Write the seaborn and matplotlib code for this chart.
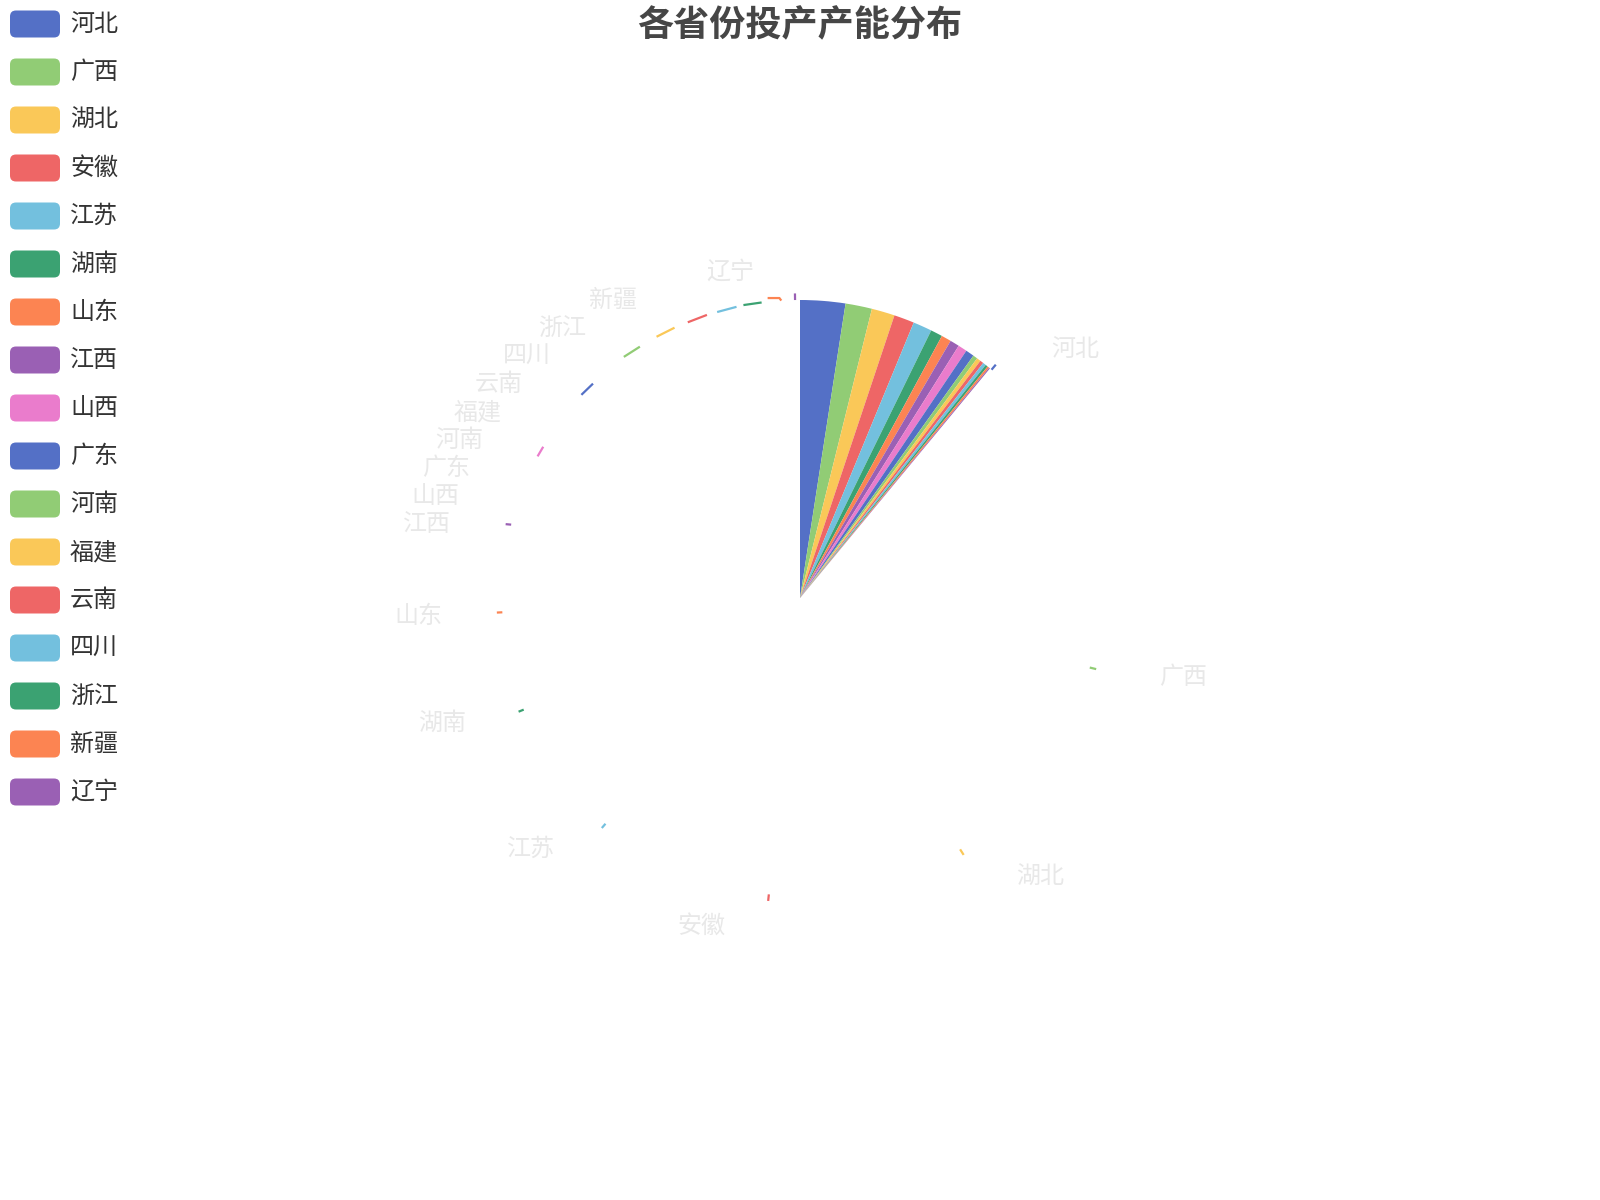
import numpy as np
import matplotlib
matplotlib.use("Agg")
import matplotlib.pyplot as plt
import seaborn as sns
from matplotlib.patches import FancyBboxPatch

provinces = ["河北", "广西", "湖北", "安徽", "江苏", "湖南", "山东", "江西", "山西",
             "广东", "河南", "福建", "云南", "四川", "浙江", "新疆", "辽宁"]
capacity = [800, 470, 410, 360, 335, 210, 175, 165, 160, 150, 80, 72, 62, 56, 42, 34, 19]
title = "各省份投产产能分布"

palette = sns.color_palette(["#5470c6", "#91cc75", "#fac858", "#ee6666", "#73c0de",
                             "#3ba272", "#fc8452", "#9a60b4", "#ea7ccc"])
colors = [palette[i % len(palette)] for i in range(len(provinces))]

# the picture is a frozen frame of the intro animation
progress = 0.11
cx, cy, r = 800, 598, 298
len1, len2, gap, row_h = 30, 30, 10, 28

sns.set_theme(style="white")
plt.rcParams["font.family"] = ["Noto Sans CJK SC", "DejaVu Sans"]

fig = plt.figure(figsize=(16, 12), dpi=100)
ax = fig.add_axes([0, 0, 1, 1])

vals = np.array(capacity, dtype=float)
fracs = vals / vals.sum()

# y axis is inverted below, so counterclock in data = clockwise on screen
ax.pie(fracs * progress, colors=colors, startangle=-90, counterclock=True,
       center=(cx, cy), radius=r, normalize=False,
       wedgeprops=dict(linewidth=0, antialiased=True))

# label layout at the final (full circle) positions
ends = np.cumsum(fracs) * 2 * np.pi
mids = ends - fracs * np.pi
items = []
for i, a in enumerate(mids):
    n = np.array([np.sin(a), -np.cos(a)])
    side = -1 if n[0] < 0 else 1
    p0 = np.array([cx, cy]) + r * n
    p1 = np.array([cx, cy]) + (r + len1) * n
    items.append(dict(i=i, n=n, side=side, p0=p0, p1=p1,
                      x=p1[0] + side * (len2 + gap), y=p1[1]))

for side in (-1, 1):
    group = sorted([it for it in items if it["side"] == side], key=lambda it: it["y"])
    moved = False
    for k in range(1, len(group)):
        lo = group[k - 1]["y"] + row_h
        if group[k]["y"] < lo:
            group[k]["y"] = lo
            moved = True
    if moved:
        rA = r + len1
        top = [g for g in group if g["y"] <= cy]
        bottom = [g for g in group if g["y"] > cy]
        for semi in (top, bottom):
            if not semi:
                continue
            far = max(semi, key=lambda g: abs(g["y"] - cy))
            dy = abs(far["y"] - cy)
            dx = far["x"] - cx - len2 * side
            rB = np.sqrt(dy ** 2 / (1 - dx ** 2 / rA ** 2)) if abs(dx) < rA else rA
            for g in semi:
                dy = abs(g["y"] - cy)
                ex = np.sqrt(max(0.0, 1 - dy ** 2 / rB ** 2) * rA ** 2)
                g["x"] = cx + (ex + len2) * side


def project(p, a, b):
    d = (b - a) / np.linalg.norm(b - a)
    q = a + d * np.dot(p - a, d)
    return q, np.linalg.norm(p - q)


def clip_between(q, a, b):
    t = (q[0] - a[0]) / (b[0] - a[0]) if b[0] != a[0] else (q[1] - a[1]) / (b[1] - a[1])
    if t < 0:
        return a
    if t > 1:
        return b
    return q


def limit_turn(p0, p1, p2, min_angle=np.pi / 2):
    u, v = p0 - p1, p2 - p1
    lu, lv = np.linalg.norm(u), np.linalg.norm(v)
    if lu < 1e-3 or lv < 1e-3:
        return p1
    if np.cos(min_angle) < np.dot(u / lu, v / lv):
        q, _ = project(p0, p1, p2)
        return clip_between(q, p1, p2)
    return p1


def limit_surface(p0, p1, p2, n, max_angle=np.pi / 2):
    u, v = p1 - p0, p2 - p1
    lu, lv = np.linalg.norm(u), np.linalg.norm(v)
    if lu < 1e-3 or lv < 1e-3:
        return p1
    u, v = u / lu, v / lv
    if np.dot(u, n) < np.cos(max_angle) - 1e-9:
        q, d = project(p0, p1, p2)
        ang2 = np.arccos(np.clip(np.dot(v, n), -1, 1))
        new = np.pi / 2 + ang2 - max_angle
        if new >= np.pi / 2:
            return p2
        q = q + v * d / np.tan(np.pi / 2 - new)
        return clip_between(q, p1, p2)
    return p1


def partial(pts, frac):
    seg = np.diff(pts, axis=0)
    lens = np.hypot(seg[:, 0], seg[:, 1])
    target = frac * lens.sum()
    out, acc = [pts[0]], 0.0
    for k, l in enumerate(lens):
        if acc + l >= target:
            out.append(pts[k] + seg[k] * ((target - acc) / l if l > 0 else 0))
            break
        out.append(pts[k + 1])
        acc += l
    return np.array(out)


for it in items:
    p0 = it["p0"]
    p2 = np.array([it["x"] - it["side"] * gap, it["y"]])
    p1 = np.array([it["p1"][0], it["y"]])
    p1 = limit_turn(p0, p1, p2)
    p1 = limit_surface(p0, p1, p2, it["n"])
    line = partial(np.array([p0, p1, p2]), progress)
    ax.plot(line[:, 0], line[:, 1], color=colors[it["i"]], lw=1.6,
            solid_capstyle="butt")
    ax.text(it["x"], it["y"] + 2, provinces[it["i"]],
            ha="left" if it["side"] > 0 else "right",
            va="center", fontsize=17.3, color="#e8e8e8")

# legend, vertical at the left
for i, name in enumerate(provinces):
    y = 24 + 48 * i
    ax.add_patch(FancyBboxPatch((10, y - 13.5), 50, 27,
                                boxstyle="round,pad=0,rounding_size=6",
                                fc=colors[i], ec="none"))
    ax.text(70, y, name, ha="left", va="center", fontsize=17.3, color="#333333")

ax.text(800, 26, title, ha="center", va="center", fontsize=26, fontweight="bold",
        color="#464646")

ax.set_xlim(0, 1600)
ax.set_ylim(1200, 0)
ax.set_aspect("auto")
ax.axis("off")
fig.savefig("out.png", dpi=100)
